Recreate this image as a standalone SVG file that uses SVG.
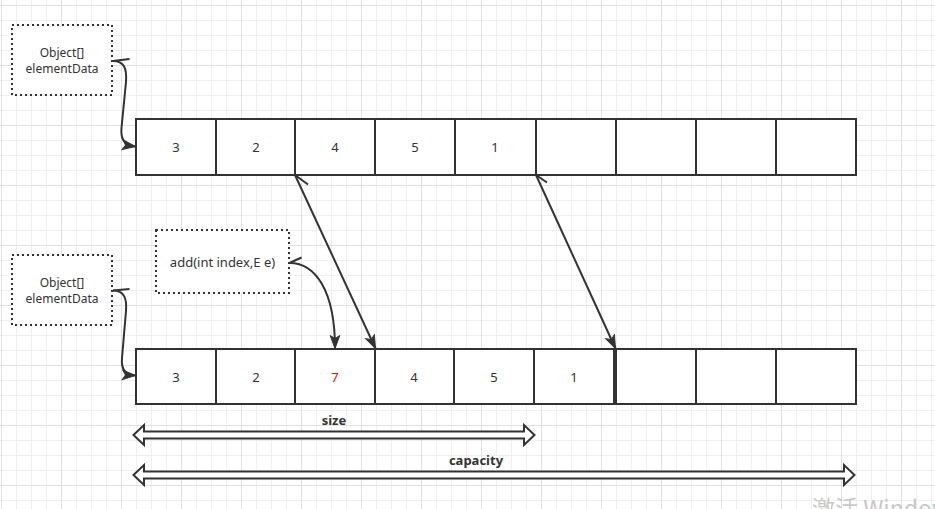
<svg xmlns="http://www.w3.org/2000/svg" width="935" height="509" viewBox="0 0 935 509">
<defs>
<pattern id="minor" patternUnits="userSpaceOnUse" x="1" y="5" width="15" height="15">
<path d="M0.5 0 V15 M0 0.5 H15" stroke="#f0f0f0" stroke-width="1" fill="none"/>
</pattern>
<pattern id="major" patternUnits="userSpaceOnUse" x="1" y="5" width="60" height="60">
<path d="M0.5 0 V60 M0 0.5 H60" stroke="#e2e2e2" stroke-width="1" fill="none"/>
</pattern>
<marker id="arr" markerUnits="userSpaceOnUse" markerWidth="15" markerHeight="12" viewBox="0 0 15 12" refX="14" refY="6" orient="auto">
<path d="M1,1.2 L14,6 L1,10.8 L4,6 Z" fill="#333" stroke="#333" stroke-width="1"/>
</marker>
<style>
.cell{fill:#fff;stroke:#333;stroke-width:2}
.note{fill:#fff;stroke:#333;stroke-width:2;stroke-dasharray:2 3}
.t{font-family:"Noto Sans","Open Sans","Liberation Sans",sans-serif;font-size:13px;fill:#333;text-anchor:middle}
.s{font-size:12px}
.b{font-weight:bold}
.edge{fill:none;stroke:#333;stroke-width:2}
.flex{fill:#fff;stroke:#333;stroke-width:2;stroke-linejoin:miter}
</style>
</defs>
<rect x="0" y="0" width="935" height="509" fill="#fff"/>
<rect x="0" y="0" width="935" height="509" fill="url(#minor)"/>
<rect x="0" y="0" width="935" height="509" fill="url(#major)"/>

<g id="note-top">
<rect class="note" x="12" y="25" width="100" height="70"/>
<text class="t s" x="62" y="56.5">Object[]</text>
<text class="t s" x="62" y="73">elementData</text>
</g>
<g id="note-bottom">
<rect class="note" x="12" y="255" width="100" height="70"/>
<text class="t s" x="62" y="286.5">Object[]</text>
<text class="t s" x="62" y="303">elementData</text>
</g>
<g id="note-add">
<rect class="note" x="156" y="230" width="133" height="63"/>
<text class="t" x="222.5" y="267">add(int index,E e)</text>
</g>

<g id="array-top">
<rect class="cell" x="136" y="119" width="80" height="56"/>
<rect class="cell" x="216" y="119" width="79" height="56"/>
<rect class="cell" x="295" y="119" width="80" height="56"/>
<rect class="cell" x="375" y="119" width="80" height="56"/>
<rect class="cell" x="455" y="119" width="81" height="56"/>
<rect class="cell" x="536" y="119" width="80" height="56"/>
<rect class="cell" x="616" y="119" width="80" height="56"/>
<rect class="cell" x="696" y="119" width="80" height="56"/>
<rect class="cell" x="776" y="119" width="80" height="56"/>
<text class="t" x="176" y="152">3</text>
<text class="t" x="256" y="152">2</text>
<text class="t" x="335" y="152">4</text>
<text class="t" x="415" y="152">5</text>
<text class="t" x="495" y="152">1</text>
</g>

<g id="array-bottom">
<rect class="cell" x="136" y="349" width="80" height="55"/>
<rect class="cell" x="216" y="349" width="79" height="55"/>
<rect class="cell" x="295" y="349" width="80" height="55"/>
<rect class="cell" x="375" y="349" width="79" height="55"/>
<rect class="cell" x="454" y="349" width="80" height="55"/>
<rect class="cell" x="534" y="349" width="80" height="55"/>
<rect class="cell" x="616" y="349" width="80" height="55"/>
<rect class="cell" x="696" y="349" width="80" height="55"/>
<rect class="cell" x="776" y="349" width="80" height="55"/>
<line x1="615" y1="349" x2="615" y2="404" stroke="#333" stroke-width="3"/>
<text class="t" x="176" y="381.5">3</text>
<text class="t" x="256" y="381.5">2</text>
<text class="t" x="335" y="381.5" style="fill:#ff0000">7</text>
<text class="t" x="414" y="381.5">4</text>
<text class="t" x="494" y="381.5">5</text>
<text class="t" x="574" y="381.5">1</text>
</g>

<g id="connectors">
<path class="edge" d="M113 61 C124 61 127 68 126 82 L121.5 128 C120.5 139 124 145 135.5 146.5" marker-end="url(#arr)"/>
<path class="edge" d="M113 61 L129.5 59"/>
<path class="edge" d="M113 290.5 C124 290.5 127 298 126 311 L122 358 C121 369 125 375 135.5 375.5" marker-end="url(#arr)"/>
<path class="edge" d="M113 290.5 L129.5 289"/>
<path class="edge" d="M289.5 263 C315 263 335 290 335 348.5" marker-end="url(#arr)"/>
<path class="edge" d="M289.5 263 L301.5 257.5"/>
<path class="edge" d="M295 175 L375.5 348.5" marker-end="url(#arr)"/>
<path class="edge" d="M295 175 L308 184.5"/>
<path class="edge" d="M536 175 L615.5 348.5" marker-end="url(#arr)"/>
<path class="edge" d="M536 175 L547 182.5"/>
</g>

<g id="size">
<polygon class="flex" points="133.5,435 144,425 144,431.5 524,431.5 524,425 534.5,435 524,445 524,438.5 144,438.5 144,445"/>
<text class="t b" x="334" y="424.5">size</text>
</g>
<g id="capacity">
<polygon class="flex" points="133.5,475 144,465 144,471.5 844,471.5 844,465 854.5,475 844,485 844,478.5 144,478.5 144,485"/>
<text class="t b" x="476" y="464.5">capacity</text>
</g>

<text x="812" y="517" font-family="'Noto Sans CJK SC','Noto Sans',sans-serif" font-size="23" fill="#c8c8c8">激活 Windows</text>
</svg>
